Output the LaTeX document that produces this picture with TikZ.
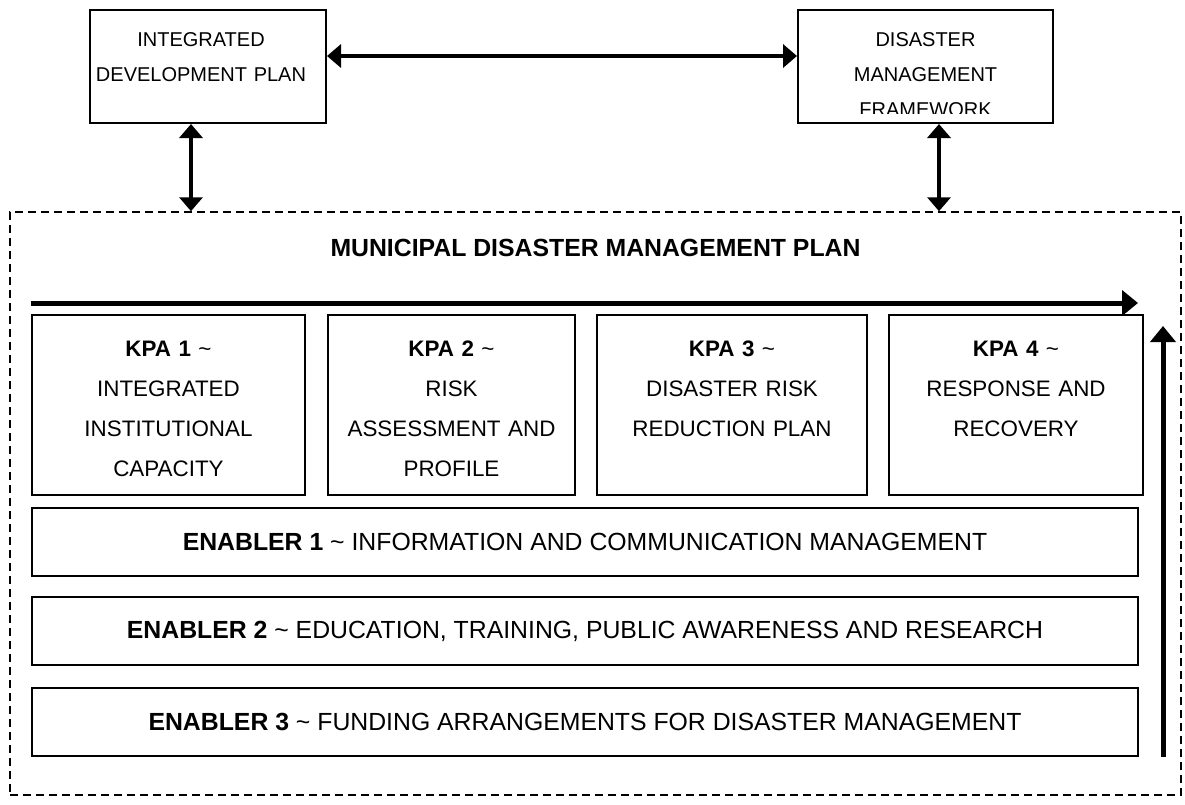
\documentclass[tikz,border=0pt]{standalone}
\usepackage{fontspec}
\setmainfont{Liberation Sans}
\usetikzlibrary{arrows.meta, positioning}

\begin{document}
\begin{tikzpicture}[
    x=1pt, y=-1pt,
    every node/.style={font=\fontsize{24.8}{40}\selectfont},
    topbox/.style={draw, line width=2pt, rectangle, minimum height=113pt, inner sep=0pt},
    toptext/.style={font=\fontsize{20}{35}\selectfont, align=center, text width=250pt, anchor=base, inner sep=0pt},
    kpabox/.style={draw, line width=2pt, rectangle, minimum height=180pt, inner sep=0pt},
    kpatext/.style={font=\fontsize{22.4}{40}\selectfont, align=center, text width=300pt, anchor=base, inner sep=0pt},
    enabler/.style={draw, line width=2pt, rectangle, minimum width=1106pt, minimum height=68pt, inner sep=0pt},
    planbox/.style={draw, line width=1.5pt, dash pattern=on 8pt off 5pt, rectangle, inner sep=0pt},
    link/.style={line width=4pt, {Triangle[length=14pt, width=23pt]}-{Triangle[length=14pt, width=23pt]}},
    flow/.style={line width=5pt, -{Triangle[length=16pt, width=25pt]}}
]
\useasboundingbox (0,0) rectangle (1185,804);

% plans on top
\node (idp) [topbox, minimum width=236pt] at (208,66.5) {};
\node (dmf) [topbox, minimum width=255pt] at (925.5,66.5) {};
\node (idptext) [toptext] at ([xshift=-7pt, yshift=-37pt]idp.north) {INTEGRATED\\DEVELOPMENT PLAN};
\begin{scope}
  % last line runs past the text area of the box
  \clip (dmf.north west) rectangle ([yshift=11pt]dmf.south east);
  \node (dmftext) [toptext] at ([yshift=-37pt]dmf.north) {DISASTER\\MANAGEMENT\\FRAMEWORK};
\end{scope}

% municipal plan
\node (mdmp) [planbox, minimum width=1171pt, minimum height=583pt] at (595.5,503.5) {};
\node (title) [anchor=base] at ([yshift=-45pt]mdmp.north) {\textbf{MUNICIPAL DISASTER MANAGEMENT PLAN}};

% key performance areas
\node (kpa1) [kpabox, minimum width=273pt] at (168.5,405) {};
\node (kpa2) [kpabox, minimum width=247pt] at (451.5,405) {};
\node (kpa3) [kpabox, minimum width=270pt] at (732,405) {};
\node (kpa4) [kpabox, minimum width=254pt] at (1016,405) {};
\node (kpa1text) [kpatext] at ([yshift=-42pt]kpa1.north) {\textbf{KPA 1} \textasciitilde\\INTEGRATED\\INSTITUTIONAL\\CAPACITY};
\node (kpa2text) [kpatext] at ([yshift=-42pt]kpa2.north) {\textbf{KPA 2} \textasciitilde\\RISK\\ASSESSMENT AND\\PROFILE};
\node (kpa3text) [kpatext] at ([yshift=-42pt]kpa3.north) {\textbf{KPA 3} \textasciitilde\\DISASTER RISK\\REDUCTION PLAN};
\node (kpa4text) [kpatext] at ([yshift=-42pt]kpa4.north) {\textbf{KPA 4} \textasciitilde\\RESPONSE AND\\RECOVERY};

% enablers
\node (en1) [enabler] at (585,541.5) {\textbf{ENABLER 1} \textasciitilde{} INFORMATION AND COMMUNICATION MANAGEMENT};
\node (en2) [enabler] at (585,631) {\textbf{ENABLER 2} \textasciitilde{} EDUCATION, TRAINING, PUBLIC AWARENESS AND RESEARCH};
\node (en3) [enabler] at (585,721.5) {\textbf{ENABLER 3} \textasciitilde{} FUNDING ARRANGEMENTS FOR DISASTER MANAGEMENT};

\draw [link] ([yshift=10.5pt]idp.east) -- ([yshift=10.5pt]dmf.west);
\draw [link] ([xshift=-17pt]idp.south) -- ([xshift=-17pt]idp.south |- mdmp.north);
\draw [link] ([xshift=13.5pt]dmf.south) -- ([xshift=13.5pt]dmf.south |- mdmp.north);
\draw [flow] ([yshift=11pt]kpa1.north west) -- ([xshift=-6pt, yshift=11pt]kpa4.north east);
\draw [flow] ([xshift=24pt]en3.south east) -- ([xshift=24pt, yshift=-12pt]en3.east |- kpa4.north);

\end{tikzpicture}
\end{document}
